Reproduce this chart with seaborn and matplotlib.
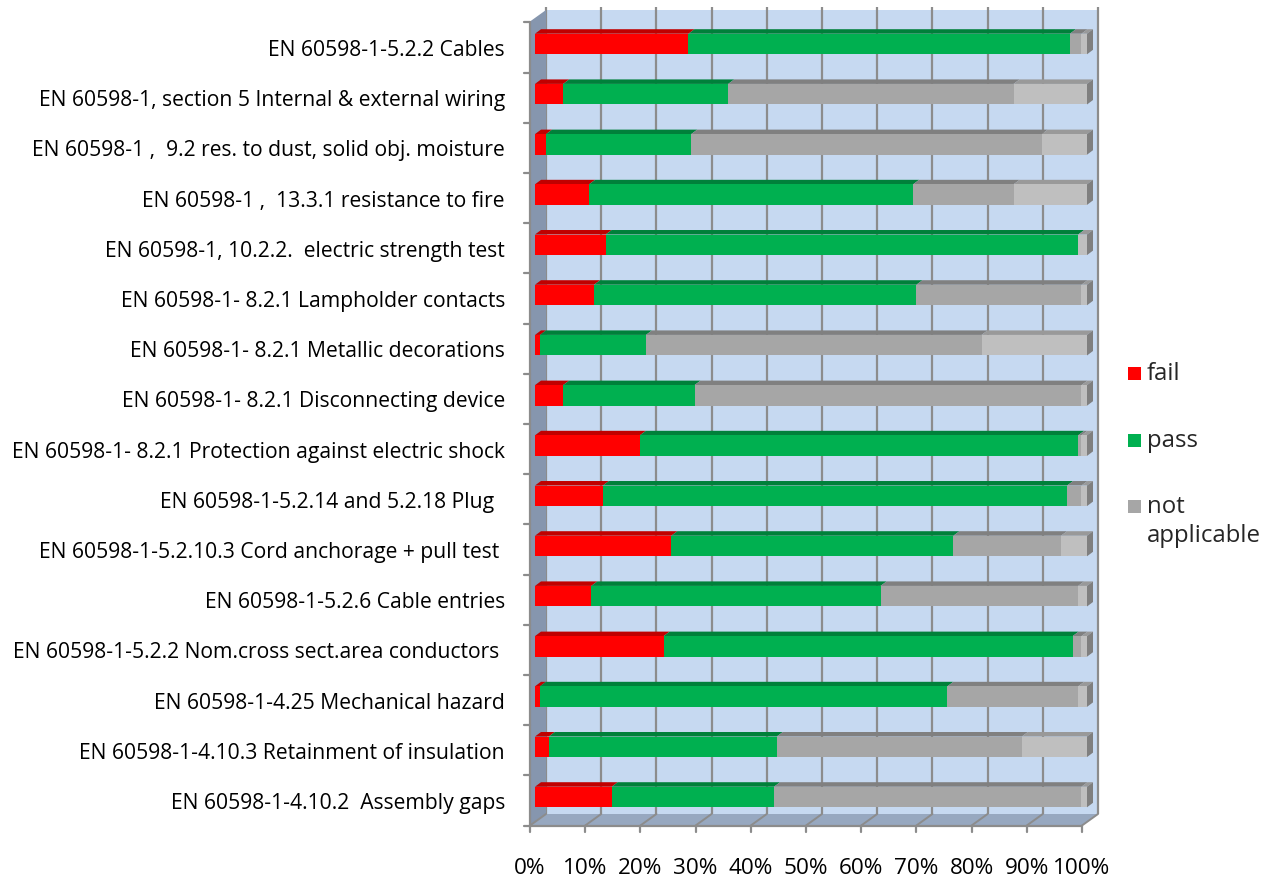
import numpy as np
import pandas as pd
import matplotlib
matplotlib.use("Agg")
import matplotlib.pyplot as plt
from matplotlib.patches import Polygon, Rectangle
from matplotlib.transforms import ScaledTranslation
import seaborn as sns

# ---- data (percent of tested products per requirement) ----
tests = [
    "EN 60598-1-5.2.2 Cables",
    "EN 60598-1, section 5 Internal & external wiring",
    "EN 60598-1 ,  9.2 res. to dust, solid obj. moisture",
    "EN 60598-1 ,  13.3.1 resistance to fire",
    "EN 60598-1, 10.2.2.  electric strength test",
    "EN 60598-1- 8.2.1 Lampholder contacts",
    "EN 60598-1- 8.2.1 Metallic decorations",
    "EN 60598-1- 8.2.1 Disconnecting device",
    "EN 60598-1- 8.2.1 Protection against electric shock",
    "EN 60598-1-5.2.14 and 5.2.18 Plug  ",
    "EN 60598-1-5.2.10.3 Cord anchorage + pull test ",
    "EN 60598-1-5.2.6 Cable entries",
    "EN 60598-1-5.2.2 Nom.cross sect.area conductors ",
    "EN 60598-1-4.25 Mechanical hazard",
    "EN 60598-1-4.10.3 Retainment of insulation",
    "EN 60598-1-4.10.2  Assembly gaps",
]
fail = [27.8, 5.1, 2.0, 9.8, 12.8, 10.7, 0.9, 5.1, 19.0, 12.3, 24.7, 10.2, 23.3, 0.9, 2.5, 13.9]
passed = [69.1, 29.9, 26.3, 58.7, 85.6, 58.4, 19.2, 23.8, 79.4, 84.1, 51.1, 52.4, 74.1, 73.8, 41.3, 29.4]
not_applicable = [2.1, 51.7, 63.5, 18.2, 0.0, 29.9, 60.8, 70.1, 0.6, 2.6, 19.5, 35.8, 1.6, 23.7, 44.4, 55.7]
unknown = [1.0, 13.3, 8.2, 13.3, 1.6, 1.0, 19.1, 1.0, 1.0, 1.0, 4.7, 1.6, 1.0, 1.6, 11.8, 1.0]

series_names = ["fail", "pass", "not applicable", "unknown"]
front_colors = ["#FF0000", "#00B050", "#A6A6A6", "#BFBFBF"]
top_colors = ["#C00000", "#00803A", "#808080", "#999999"]
legend_labels = ["fail", "pass", "not\napplicable"]
xtick_values = list(range(0, 101, 10))
xtick_labels = [f"{v}%" for v in xtick_values]

df = pd.DataFrame({"test": tests, "fail": fail, "pass": passed,
                   "not applicable": not_applicable, "unknown": unknown})
totals = df[series_names].sum(axis=1)
for s in series_names:
    df[s] = df[s] / totals * 100
cum = df[series_names].cumsum(axis=1)
for s in series_names:
    df["cum " + s] = cum[s]

# ---- figure / styling ----
sns.set_theme(style="white")
plt.rcParams["font.family"] = ["Open Sans", "DejaVu Sans"]

W, H = 1279, 881
fig = plt.figure(figsize=(W / 100, H / 100), dpi=100)
ax_left, ax_right, ax_top, ax_bottom = 535, 1087, 18, 822
ax = fig.add_axes([ax_left / W, 1 - ax_bottom / H,
                   (ax_right - ax_left) / W, (ax_bottom - ax_top) / H])
ax.set_facecolor("none")
ax_w_px = ax_right - ax_left
ax_h_px = ax_bottom - ax_top

BAR_H = 0.41
YLIM = (15.498, -0.518)

# stacked bars: draw cumulative totals from the widest down
for s, c in reversed(list(zip(series_names, front_colors))):
    sns.barplot(data=df, x="cum " + s, y="test", order=tests, color=c,
                saturation=1, width=BAR_H, orient="h", errorbar=None,
                linewidth=0, ax=ax, zorder=3)

ax.set_xlim(0, 100)
ax.set_ylim(*YLIM)
for sp in ax.spines.values():
    sp.set_visible(False)
ax.grid(False)

# pixel -> axes-fraction helpers for the 3-D box
def fx(px):
    return px / ax_w_px

def fy(px):
    return px / ax_h_px

BACK = (11, 8)      # offset of back wall from bar front plane (px right, px up)
FRONT = (-5, -3.5)  # offset of front floor edge
DEPTH = (6, 4.5)    # bar depth

def pt(x, y, off):
    return (x + fx(off[0]), y + fy(off[1]))

T = ax.transAxes
wall_c, side_c, floor_c, grid_c = "#C6D9F1", "#8696AE", "#97A8C0", "#8C8C8C"

# back wall
ax.add_patch(Polygon([pt(0, 0, BACK), pt(1, 0, BACK), pt(1, 1, BACK), pt(0, 1, BACK)],
                     closed=True, transform=T, facecolor=wall_c, edgecolor="none",
                     clip_on=False, zorder=0.1))
# side wall
ax.add_patch(Polygon([pt(0, 1, FRONT), pt(0, 1, BACK), pt(0, 0, BACK), pt(0, 0, FRONT)],
                     closed=True, transform=T, facecolor=side_c, edgecolor="none",
                     clip_on=False, zorder=0.2))
# floor
ax.add_patch(Polygon([pt(0, 0, FRONT), pt(1, 0, FRONT), pt(1, 0, BACK), pt(0, 0, BACK)],
                     closed=True, transform=T, facecolor=floor_c, edgecolor="none",
                     clip_on=False, zorder=0.2))

# gridlines on the back wall and across the floor
for v in xtick_values:
    xa = v / 100
    (x0, y0), (x1, y1) = pt(xa, 0, BACK), pt(xa, 1, BACK)
    ax.plot([x0, x1], [y0, y1 + fy(3)], transform=T, color=grid_c, lw=1.6,
            clip_on=False, zorder=0.15, solid_capstyle="butt")
    (x2, y2) = pt(xa, 0, FRONT)
    ax.plot([x0, x2], [y0, y2], transform=T, color=grid_c, lw=1.4,
            clip_on=False, zorder=0.25)
    # tick below the front edge
    ax.plot([x2, x2], [y2, y2 - fy(6)], transform=T, color=grid_c, lw=1.6,
            clip_on=False, zorder=0.3)

# front axis lines
(fx0, fy0), (fx1, fy1) = pt(0, 0, FRONT), pt(1, 0, FRONT)
ax.plot([fx0, fx1], [fy0, fy1], transform=T, color=grid_c, lw=1.6, clip_on=False, zorder=0.3)
(lx0, ly0), (lx1, ly1) = pt(0, 0, FRONT), pt(0, 1, FRONT)
ax.plot([lx0, lx1], [ly0, ly1], transform=T, color=grid_c, lw=1.6, clip_on=False, zorder=0.3)
n = len(tests)
for b in np.arange(-0.5, n, 1.0):
    ya = (YLIM[0] - b) / (YLIM[0] - YLIM[1])
    (bx, by) = pt(0, ya, FRONT)
    ax.plot([bx, bx - fx(6)], [by, by], transform=T, color=grid_c, lw=1.6,
            clip_on=False, zorder=0.3)

# 3-D faces of the bars (top faces + right end cap)
dxd = DEPTH[0] * 100 / ax_w_px
dyd = DEPTH[1] * (YLIM[0] - YLIM[1]) / ax_h_px
for i in range(n):
    yt = i - BAR_H / 2
    yb = i + BAR_H / 2
    left = 0.0
    for s, tc in zip(series_names, top_colors):
        right = df.loc[i, "cum " + s]
        if right - left > 1e-9:
            ax.add_patch(Polygon([(left, yt), (right, yt), (right + dxd, yt - dyd),
                                  (left + dxd, yt - dyd)], closed=True,
                                 facecolor=tc, edgecolor="none", clip_on=False, zorder=2.9))
        left = right
    ax.add_patch(Polygon([(left, yt), (left + dxd, yt - dyd), (left + dxd, yb - dyd),
                          (left, yb)], closed=True, facecolor="#7F7F7F",
                         edgecolor="none", clip_on=False, zorder=3.1))

# tick labels
FS = 15.2
ax.set_yticks(np.arange(n), labels=tests)
ax.set_xticks(xtick_values, labels=xtick_labels)
ax.tick_params(axis="y", length=0, pad=21.6, labelsize=FS, labelcolor="black")
ax.tick_params(axis="x", length=0, pad=26, labelsize=16.2, labelcolor="black")
ax.set_xlabel("")
ax.set_ylabel("")
ydown = ScaledTranslation(0, -4 / 100, fig.dpi_scale_trans)
for lab in ax.get_yticklabels():
    lab.set_transform(lab.get_transform() + ydown)
xleft = ScaledTranslation(-5 / 100, 0, fig.dpi_scale_trans)
for lab in ax.get_xticklabels():
    lab.set_transform(lab.get_transform() + xleft)

# legend
leg_y = [373, 440, 506]
for lbl, c, y in zip(legend_labels, front_colors, leg_y):
    fig.add_artist(Rectangle(((1128) / W, 1 - (y + 6.5) / H), 13 / W, 13 / H,
                             transform=fig.transFigure, facecolor=c, edgecolor="none"))
    fig.text(1147 / W, 1 - (y - 11) / H, lbl, ha="left", va="top", fontsize=17.3,
             linespacing=1.25)

fig.savefig("out.png", dpi=100)
